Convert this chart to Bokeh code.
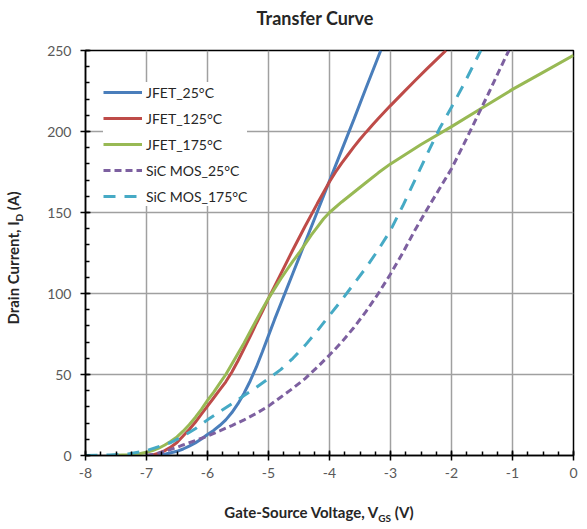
from bokeh.plotting import figure
from bokeh.layouts import column, row
from bokeh.models import Range1d, SingleIntervalTicker, Legend, LegendItem, Div, CustomJSTickFormatter
from bokeh.embed import file_html
from bokeh.resources import INLINE

FONT = "Lato"

# JFET curves: gate-source voltage (V) -> drain current (A)
jfet25_v = [-6.9, -6.7, -6.5, -6.4, -6.3, -6.2, -6.1, -6.0, -5.9, -5.8, -5.7, -5.6, -5.5, -5.4, -5.3, -5.2, -5.1, -5.0,
            -4.9, -4.8, -4.7, -4.6, -4.5, -4.4, -4.2, -4.0, -3.8, -3.6, -3.4, -3.16]
jfet25_i = [0, 0.8, 2.6, 4, 5.8, 7.8, 10.2, 13, 15.5, 18.5, 22, 26.5, 32, 38.5, 46, 54.5, 64, 74,
            84, 93.5, 103, 112.5, 122, 131.5, 150.5, 169.5, 188.5, 207.5, 227, 250]

jfet125_v = [-7.0, -6.9, -6.8, -6.7, -6.6, -6.5, -6.4, -6.3, -6.2, -6.1, -6.0, -5.9, -5.8, -5.7, -5.6, -5.5, -5.4, -5.3, -5.2, -5.1, -5.0,
             -4.8, -4.6, -4.4, -4.2, -4.0, -3.9, -3.8, -3.7, -3.6, -3.5, -3.4, -3.3, -3.2, -3.1, -3.0, -2.8, -2.6, -2.4, -2.2, -2.09]
jfet125_i = [0, 0.4, 1.4, 3, 5.2, 8, 12, 16, 20.5, 25.5, 30.5, 35.5, 40.5, 45.5, 51.5, 58.5, 66, 73.5, 81.5, 89, 97,
             112, 127, 141.5, 155.5, 169, 175, 180.5, 185.5, 190.5, 195.2, 199.6, 203.9, 208, 212, 216, 223.7, 231.3, 238.8, 246.1, 250]

jfet175_v = [-7.6, -7.3, -7.1, -7.0, -6.9, -6.8, -6.7, -6.6, -6.5, -6.4, -6.3, -6.2, -6.1, -6.0, -5.9, -5.8, -5.7, -5.6, -5.5, -5.4,
             -5.3, -5.2, -5.1, -5.0, -4.9, -4.8, -4.7, -4.6, -4.5, -4.4, -4.3, -4.2, -4.1, -4.0, -3.8, -3.6, -3.4, -3.2, -3.0,
             -2.5, -2.0, -1.5, -1.0, -0.5, 0.0]
jfet175_i = [0, 0.4, 1.2, 2, 3, 4.5, 6.5, 8.8, 11.5, 15, 19, 23.5, 28.5, 34, 39, 44.5, 50, 56.5, 63, 69.5,
             76.5, 83.5, 90.5, 97, 103, 109, 114.5, 120, 125, 130.5, 136, 141, 146, 150, 156.5, 162.5, 168.5, 174.5, 180,
             192, 203, 214.5, 226, 236.5, 247]

# SiC MOSFET curves
sic25_v = [-7.0, -6.9, -6.8, -6.7, -6.6, -6.5, -6.4, -6.2, -6.0, -5.8, -5.6, -5.4, -5.2, -5.0, -4.8, -4.6, -4.4, -4.2, -4.0,
           -3.8, -3.6, -3.4, -3.2, -3.0, -2.8, -2.6, -2.4, -2.2, -2.0, -1.8, -1.6, -1.4, -1.2, -1.06]
sic25_i = [0, 0.6, 1.5, 2.6, 3.8, 5, 6.5, 9.2, 12, 15.2, 18.5, 22, 26, 30.5, 36, 41.5, 47.5, 54.5, 62,
           70, 79, 89, 100, 112, 125, 139, 152, 164.5, 177, 192, 207.5, 223, 239, 250]

sic175_v = [-8.0, -7.6, -7.3, -7.0, -6.8, -6.6, -6.4, -6.2, -6.0, -5.8, -5.6, -5.4, -5.2, -5.0, -4.8, -4.6, -4.4, -4.2,
            -4.0, -3.8, -3.6, -3.4, -3.2, -3.0, -2.8, -2.6, -2.4, -2.2, -2.0, -1.8, -1.52]
sic175_i = [0, 0.3, 1, 3, 5.5, 8, 12, 16.5, 22, 27, 32, 37, 42, 47.5, 53, 60, 68, 77,
            86.5, 96, 106, 116, 127, 139, 154, 170, 186, 201.5, 215, 229, 250]

series_names = ["JFET_25°C", "JFET_125°C", "JFET_175°C", "SiC MOS_25°C", "SiC MOS_175°C"]
title_text = "Transfer Curve"

p = figure(
    frame_width=488, frame_height=405,
    min_border_left=55, min_border_right=14, min_border_top=10, min_border_bottom=31,
    x_range=Range1d(-8, 0), y_range=Range1d(0, 250),
    output_backend="svg", toolbar_location=None,
)
p.background_fill_color = "white"
p.border_fill_color = "white"
p.outline_line_color = "black"
p.outline_line_width = 1.5

p.xaxis.ticker = SingleIntervalTicker(interval=1, num_minor_ticks=4)
p.yaxis.ticker = SingleIntervalTicker(interval=50, num_minor_ticks=5)
p.xaxis.formatter = CustomJSTickFormatter(code="return tick.toFixed(0)")
for ax in (p.xaxis, p.yaxis):
    ax.axis_line_color = "black"
    ax.axis_line_width = 1.5
    ax.major_tick_line_color = "black"
    ax.major_tick_line_width = 1.5
    ax.minor_tick_line_color = "black"
    ax.minor_tick_line_width = 1.5
    ax.major_tick_in = 5
    ax.major_tick_out = 5
    ax.minor_tick_in = 4
    ax.minor_tick_out = 0
    ax.major_label_text_font = FONT
    ax.major_label_text_font_size = "14px"
    ax.major_label_text_color = "#595959"
p.xaxis.major_label_standoff = 7
p.yaxis.major_label_standoff = 9

p.xgrid.grid_line_color = "#a0a0a0"
p.ygrid.grid_line_color = "#a0a0a0"
p.xgrid.grid_line_width = 1.5
p.ygrid.grid_line_width = 1.5

r1 = p.line(jfet25_v, jfet25_i, line_color="#4a7ebb", line_width=3)
r2 = p.line(jfet125_v, jfet125_i, line_color="#be4b48", line_width=3)
r3 = p.line(jfet175_v, jfet175_i, line_color="#98b954", line_width=3)
r4 = p.line(sic25_v, sic25_i, line_color="#7d60a0", line_width=3, line_dash="7 4")
r5 = p.line(sic175_v, sic175_i, line_color="#46aac5", line_width=3, line_dash="12 9")

legend = Legend(
    items=[LegendItem(label=n, renderers=[r]) for n, r in zip(series_names, [r1, r2, r3, r4, r5])],
    location=(18, 249),
    border_line_color=None,
    background_fill_color="white",
    background_fill_alpha=1.0,
    label_text_font=FONT,
    label_text_font_size="14px",
    label_text_color="#262626",
    glyph_width=39, glyph_height=20, label_height=20,
    spacing=6, padding=8, label_standoff=4, margin=0,
)
p.add_layout(legend, "center")

TXT = "font-family:Lato;font-weight:bold;font-size:15px;color:#262626;white-space:nowrap;"


def box(w, h, cx, cy, html, extra=""):
    return Div(
        width=w, height=h, margin=0,
        text=(f'<div style="position:relative;width:{w}px;height:{h}px;">'
              f'<span style="position:absolute;left:{cx}px;top:{cy}px;'
              f'transform:translate(-50%,-50%){extra};{TXT}">{html}</span></div>'),
    )


title_div = box(587, 40, 315, 18.5, f'<span style="font-size:18px">{title_text}</span>')
ylab_div = box(30, 446, 15, 218, 'Drain Current, I<sub style="font-size:10px">D</sub> (A)', " rotate(-90deg)")
xlab_div = box(587, 43, 319, 27.5, 'Gate-Source Voltage, V<sub style="font-size:10px">GS</sub> (V)')

layout = column(title_div, row(ylab_div, p), xlab_div)

open("out.html", "w").write(file_html(layout, INLINE))
